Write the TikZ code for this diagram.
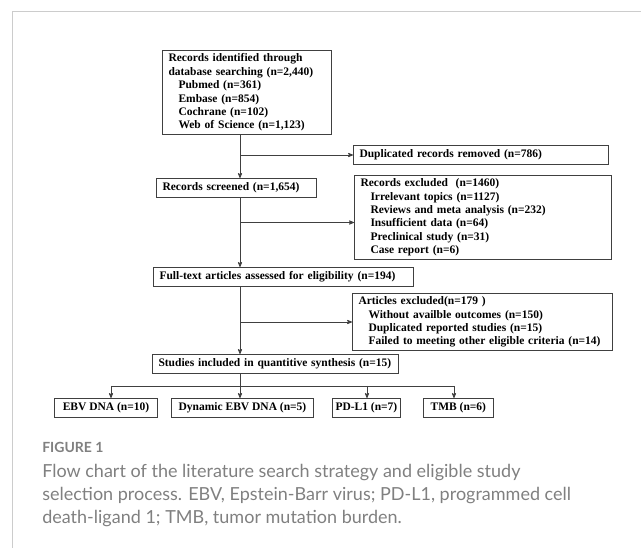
\documentclass[tikz,border=0pt]{standalone}
\usepackage{fontspec}
\setmainfont{Liberation Serif}
\newfontfamily\capfont{Lato}
\usetikzlibrary{arrows,positioning}

\definecolor{framegray}{HTML}{CCCCCC}
\definecolor{capgray}{HTML}{808080}
\definecolor{boxgray}{HTML}{404040}

\newcommand{\ind}{\hspace*{10pt}}

\begin{document}
\begin{tikzpicture}[->,>=stealth',x=1pt,y=-1pt,semithick]
  \tikzset{
    box/.style={draw=boxgray,line width=1pt,align=left,anchor=north west,
      inner xsep=6pt,inner ysep=0pt,minimum height=19pt,text=black,
      font=\bfseries\fontsize{11.5}{13.4}\selectfont},
    leaf/.style={box,align=center,inner xsep=3pt},
    link/.style={draw=boxgray,line width=0.8pt}
  }
  \useasboundingbox (0,0) rectangle (641,548);
  \draw[-,framegray,line width=1pt] (12,548) -- (12,12) -- (641,12);

  \node[box,text width=157pt,minimum height=84pt] (ids) at (162,50) {Records identified through\\database searching (n=2,440)\\\ind Pubmed (n=361)\\\ind Embase (n=854)\\\ind Cochrane (n=102)\\\ind Web of Science (n=1,123)};
  \node[box,text width=243pt] (dup) at (353,145) {Duplicated records removed (n=786)};
  \node[box,text width=148pt] (scr) at (156,178) {Records screened (n=1,654)};
  \node[box,text width=245pt,minimum height=84pt] (exc) at (354,175) {Records excluded~ (n=1460)\\\ind Irrelevant topics (n=1127)\\\ind Reviews and meta analysis (n=232)\\\ind Insufficient data (n=64)\\\ind Preclinical study (n=31)\\\ind Case report (n=6)};
  \node[box,text width=248pt] (full) at (153,267) {Full-text articles assessed for eligibility (n=194)};
  \node[box,text width=248pt,minimum height=57pt] (art) at (352,293) {Articles excluded(n=179 )\\\ind Without availble outcomes (n=150)\\\ind Duplicated reported studies (n=15)\\\ind Failed to meeting other eligible criteria (n=14)};
  \node[box,text width=234pt] (inc) at (152,354) {Studies included in quantitive synthesis (n=15)};

  \node[leaf,minimum width=103pt] (ebv) at (54,398) {EBV DNA (n=10)};
  \node[leaf,minimum width=142pt,right=13pt of ebv] (dyn) {Dynamic EBV DNA (n=5)};
  \node[leaf,minimum width=67pt,right=18pt of dyn] (pdl) {PD-L1 (n=7)};
  \node[leaf,minimum width=70pt,right=22pt of pdl] (tmb) {TMB (n=6)};

  \coordinate (sp) at (240,0);
  \coordinate (excin) at ([yshift=-5pt]exc.west);
  \coordinate (split) at (240,386);
  \coordinate (sl) at (111,386);
  \coordinate (sm) at (367,386);
  \coordinate (sr) at (454,386);

  \draw[link] (ids.south -| sp) -- (scr.north -| sp);
  \draw[link] (sp |- dup.west) -- (dup.west);
  \draw[link] (scr.south -| sp) -- (full.north -| sp);
  \draw[link] (sp |- excin) -- (excin);
  \draw[link] (full.south -| sp) -- (inc.north -| sp);
  \draw[link] (sp |- art.west) -- (art.west);
  \draw[link,-] (inc.south -| sp) -- (split);
  \draw[link,-] (sl) -- (sr);
  \draw[link] (sl) -- (ebv.north -| sl);
  \draw[link] (split) -- (dyn.north -| split);
  \draw[link] (sm) -- (pdl.north -| sm);
  \draw[link] (sr) -- (tmb.north -| sr);

  % caption
  \node[anchor=base west,inner sep=0pt,text=capgray,font=\capfont\bfseries\fontsize{14}{16}\selectfont] (fig) at (42,453) {FIGURE 1};
  \node[anchor=north west,inner sep=0pt,align=left,text=capgray,font=\capfont\fontsize{18}{23}\selectfont] (cap) at (42,464) {Flow chart of the literature search strategy and eligible study\\selection process. EBV, Epstein-Barr virus; PD-L1, programmed cell\\death-ligand 1; TMB, tumor mutation burden.};
\end{tikzpicture}
\end{document}
